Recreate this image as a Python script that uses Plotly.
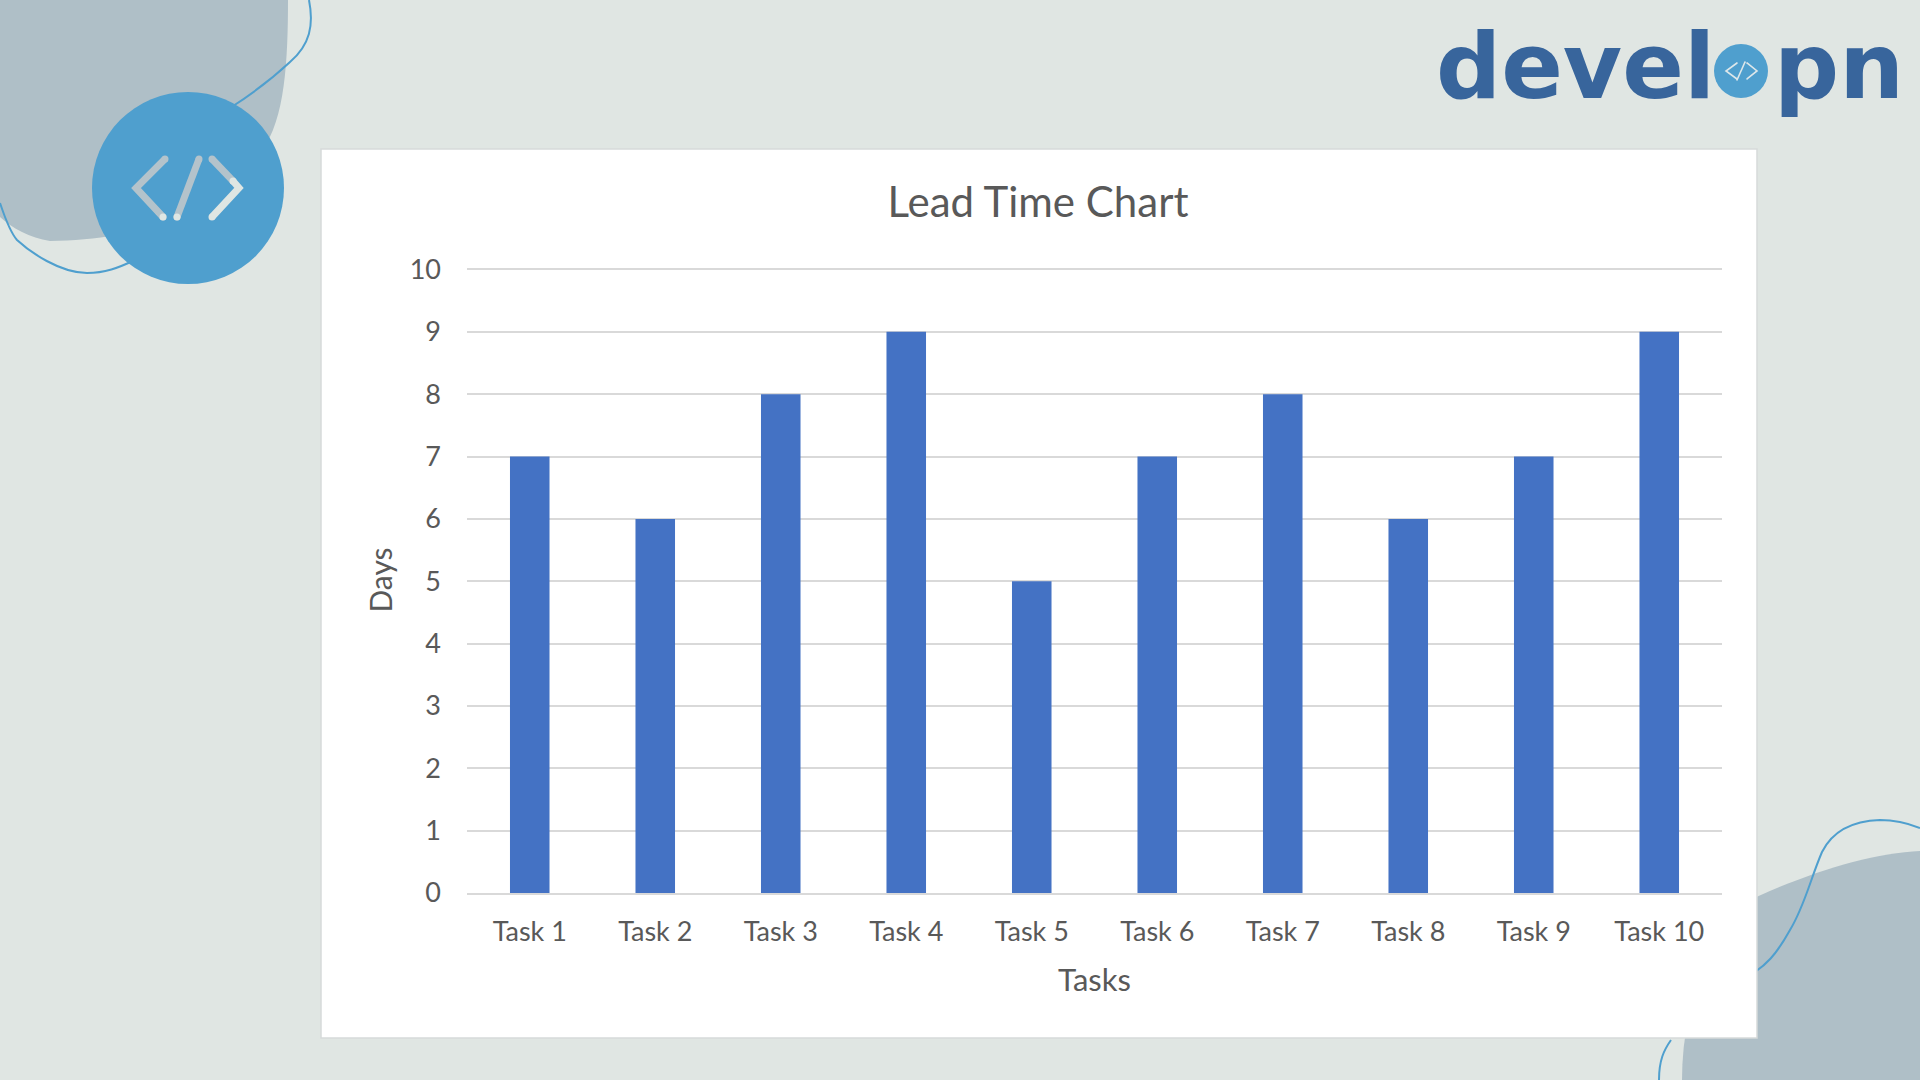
import plotly.graph_objects as go

tasks = ["Task 1", "Task 2", "Task 3", "Task 4", "Task 5", "Task 6", "Task 7", "Task 8", "Task 9", "Task 10"]
days = [7, 6, 8, 9, 5, 7, 8, 6, 7, 9]
y_ticks = list(range(0, 11))

W, H = 1920, 1080
BG = "#E0E6E3"; BLOB = "#AFBFC7"; BLUE = "#4F9FCE"; LOGO = "#38659C"; TXT = "#595959"; GRID = "#D9D9D9"
L, R, T, B = 467, 1722, 267, 893


def X(x):
    return (x - L) / (R - L)


def Y(y):
    return (B - y) / (B - T)


def path_str(parts):
    out = []
    for p in parts:
        if p == "Z":
            out.append("Z")
        else:
            cmd, *pts = p
            out.append(cmd + " " + " ".join(f"{X(a):.5f},{Y(b):.5f}" for a, b in pts))
    return " ".join(out)


def shape_path(parts, fill=None, line=None, width=0):
    return dict(type="path", xref="paper", yref="paper", layer="below", path=path_str(parts),
                fillcolor=fill or "rgba(0,0,0,0)", line=dict(color=line or "rgba(0,0,0,0)", width=width))


def disc(cx, cy, r, fill):
    return dict(type="circle", xref="paper", yref="paper", layer="below",
                x0=X(cx - r), x1=X(cx + r), y0=Y(cy + r), y1=Y(cy - r), fillcolor=fill, line=dict(width=0))


def stroke(points, color, width):
    parts = [("M", points[0])] + [("L", p) for p in points[1:]]
    return [shape_path(parts, line=color, width=width),
            disc(*points[0], width / 2, color), disc(*points[-1], width / 2, color)]


shapes = [
    # top-left blob
    shape_path([("M", (0, 0)), ("L", (288, 0)),
                ("C", (288, 60), (285, 120), (262, 150)),
                ("C", (235, 205), (150, 240), (50, 241)),
                ("C", (30, 238), (12, 228), (0, 217)), "Z"], fill=BLOB),
    # top-left contour lines
    shape_path([("M", (309, 0)), ("C", (314, 25), (310, 45), (290, 62)),
                ("C", (275, 76), (255, 92), (230, 108))], line=BLUE, width=2),
    shape_path([("M", (0, 203)), ("C", (5, 218), (10, 232), (17, 240)),
                ("C", (30, 252), (60, 273), (87, 273)),
                ("C", (105, 273), (118, 268), (135, 260))], line=BLUE, width=2),
    # bottom-right blob
    shape_path([("M", (1920, 851)), ("C", (1870, 853), (1800, 875), (1740, 905)),
                ("C", (1700, 950), (1682, 1020), (1682, 1080)),
                ("L", (1920, 1080)), "Z"], fill=BLOB),
    # bottom-right contour lines
    shape_path([("M", (1920, 828)), ("C", (1905, 822), (1890, 820), (1880, 820)),
                ("C", (1850, 821), (1832, 832), (1822, 852)),
                ("C", (1810, 880), (1805, 905), (1790, 930)),
                ("C", (1775, 957), (1765, 965), (1755, 972))], line=BLUE, width=2),
    shape_path([("M", (1671, 1040)), ("C", (1664, 1050), (1659, 1060), (1659, 1080))], line=BLUE, width=2),
    # white chart panel
    dict(type="rect", xref="paper", yref="paper", layer="below", x0=X(321), x1=X(1757), y0=Y(1038), y1=Y(149),
         fillcolor="#FFFFFF", line=dict(color="#D6DADA", width=1.5)),
    # code badge
    disc(188, 188, 96, BLUE),
    # logo "o" badge
    disc(1741, 71, 27, BLUE),
]

GREY_ICON = "#B4C3CB"
LIGHT_ICON = "#DFE6E3"
shapes += stroke([(165, 159), (136, 188), (163, 217)], GREY_ICON, 7)
shapes += stroke([(199, 159), (177, 217)], GREY_ICON, 7)
shapes += stroke([(212, 159), (233, 181)], GREY_ICON, 7)
shapes += stroke([(233, 181), (239, 188), (212, 217)], LIGHT_ICON, 7)
shapes += [disc(163, 217, 3.5, LIGHT_ICON), disc(177, 217, 3.5, LIGHT_ICON)]
for pts in ([(1737, 63), (1726, 71), (1737, 79)], [(1745, 62), (1737, 80)], [(1747, 63), (1757, 71), (1747, 79)]):
    shapes += stroke(pts, "#DDE7EA", 1.6)

fig = go.Figure(go.Bar(x=tasks, y=days, marker=dict(color="#4472C4", line=dict(width=0)), width=0.315))

font = "Lato, Carlito, Calibri, sans-serif"
fig.update_layout(
    width=W, height=H, autosize=False,
    paper_bgcolor=BG, plot_bgcolor="rgba(0,0,0,0)",
    margin=dict(l=L, r=W - R, t=T, b=H - B),
    showlegend=False,
    shapes=shapes,
    title=dict(text="Lead Time Chart", x=1038 / W, xanchor="center", xref="container",
               y=1 - 202 / H, yanchor="middle", yref="container",
               font=dict(family=font, size=42, color=TXT)),
    font=dict(family=font, color=TXT),
    xaxis=dict(type="category", categoryorder="array", categoryarray=tasks, range=[-0.5, 9.5],
               showgrid=False, showline=True, linecolor=GRID, linewidth=2, ticks="", ticklabelstandoff=14,
               tickfont=dict(family=font, size=27, color=TXT),
               title=dict(text="Tasks", font=dict(family=font, size=31, color=TXT), standoff=23)),
    yaxis=dict(range=[0, 10.04], tickvals=y_ticks, showgrid=True, gridcolor=GRID, gridwidth=2, zeroline=False,
               ticks="", ticklabelstandoff=25, showline=False,
               tickfont=dict(family=font, size=27, color=TXT),
               title=dict(text="Days", font=dict(family=font, size=30, color=TXT), standoff=8)),
    annotations=[
        dict(text="devel", xref="paper", yref="paper", x=X(1434), y=Y(99), xanchor="left", yanchor="bottom",
             showarrow=False, yshift=-22, font=dict(family="DejaVu Sans", size=91, color=LOGO, weight="bold")),
        dict(text="pn", xref="paper", yref="paper", x=X(1772), y=Y(99), xanchor="left", yanchor="bottom",
             showarrow=False, yshift=-22, font=dict(family="DejaVu Sans", size=91, color=LOGO, weight="bold")),
    ],
)

fig.write_html("out.html", config=dict(displayModeBar=False),
               post_script="document.body.style.margin='0';document.body.style.overflow='hidden';")
